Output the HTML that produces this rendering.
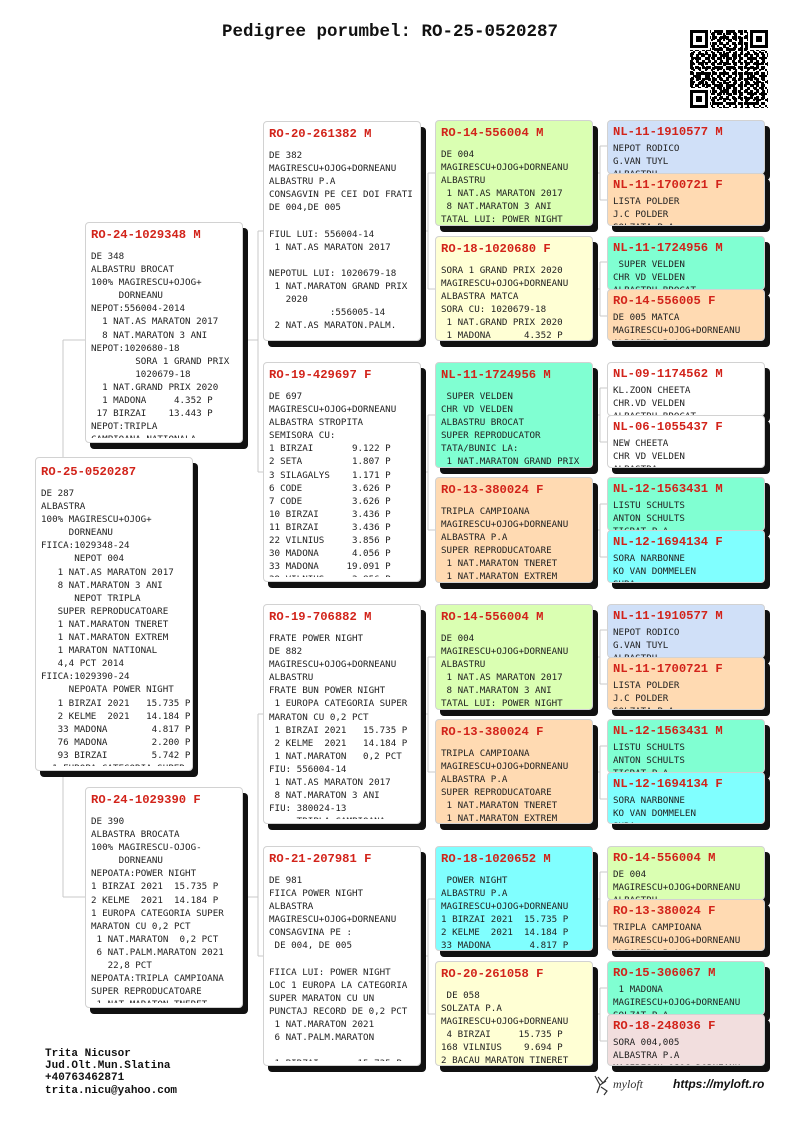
<!DOCTYPE html>
<html><head><meta charset="utf-8">
<style>
*{box-sizing:border-box}
body{margin:0;width:800px;height:1131px;background:#fff;position:relative;overflow:hidden;font-family:"Liberation Mono",monospace;color:#222}
.t{position:absolute;left:222px;top:20px;font:bold 17.5px/24px "Liberation Mono",monospace;color:#111;white-space:pre}
.b{position:absolute;width:158px;border:1px solid #d2d2d2;border-radius:4px;box-shadow:5px 6px 0 #111;background:#fff}
.c{position:absolute;left:0;top:0;right:0;bottom:4px;overflow:hidden;padding-left:5px}
.h{font:bold 12.2px/16px "Liberation Mono",monospace;color:#d2231a;padding-top:4px;height:20px;white-space:pre}
pre{margin:7px 0 0 0;font:9.2px/13.1px "DejaVu Sans Mono","Liberation Mono",monospace;color:#222}
.s .h{padding-top:3px;height:19px}
.s pre{margin-top:2px}
.s .c{bottom:0}
.m .c{bottom:1px}
.g{background:#daffb2}.y{background:#ffffd4}.p{background:#ffdab2}.a{background:#80ffd2}.cy{background:#80ffff}.bl{background:#d0e0f8}.pk{background:#f2dede}
.f{position:absolute;left:45px;top:1048px;font:bold 11px/12.2px "Liberation Mono",monospace;color:#111;white-space:pre}
</style></head><body>
<div class="t">Pedigree porumbel: RO-25-0520287</div>

<svg style="position:absolute;left:690px;top:30px" width="78" height="78" viewBox="0 0 78 78">
<defs>
<pattern id="p1" width="6" height="6" patternUnits="userSpaceOnUse"><rect x="0" y="0" width="3" height="3" fill="#000"/><rect x="3" y="3" width="2" height="2" fill="#000"/></pattern>
<pattern id="p2" width="7" height="5" patternUnits="userSpaceOnUse"><rect x="1" y="2" width="3" height="3" fill="#000"/></pattern>
<pattern id="p3" width="11" height="9" patternUnits="userSpaceOnUse"><rect x="5" y="0" width="4" height="3" fill="#000"/><rect x="0" y="5" width="3" height="4" fill="#000"/></pattern>
</defs>
<rect width="78" height="78" fill="#fff"/>
<rect width="78" height="78" fill="url(#p1)"/>
<rect width="78" height="78" fill="url(#p2)"/>
<rect width="78" height="78" fill="url(#p3)"/>
<g>
<rect x="0" y="0" width="20" height="20" fill="#fff"/><rect x="0" y="0" width="18" height="18" fill="#000"/><rect x="3" y="3" width="12" height="12" fill="#fff"/><rect x="6" y="6" width="6" height="6" fill="#000"/>
<rect x="58" y="0" width="20" height="20" fill="#fff"/><rect x="60" y="0" width="18" height="18" fill="#000"/><rect x="63" y="3" width="12" height="12" fill="#fff"/><rect x="66" y="6" width="6" height="6" fill="#000"/>
<rect x="0" y="58" width="20" height="20" fill="#fff"/><rect x="0" y="60" width="18" height="18" fill="#000"/><rect x="3" y="63" width="12" height="12" fill="#fff"/><rect x="6" y="66" width="6" height="6" fill="#000"/>
</g>
</svg>

<svg style="position:absolute;left:0;top:0" width="800" height="1131">
<g stroke="#c8c8c8" stroke-width="1" fill="none">
<path d="M63 340V897M63 340H85M63 897H85"/>
<path d="M243 340H258M258 231V472M258 231H263M258 472H263"/>
<path d="M243 897H258M258 714V956M258 714H263M258 956H263"/>
<path d="M420 231H428M428 173V289M428 173H435M428 289H435"/>
<path d="M420 472H428M428 415V530M428 415H435M428 530H435"/>
<path d="M420 714H428M428 657V772M428 657H435M428 772H435"/>
<path d="M420 956H428M428 899V1014M428 899H435M428 1014H435"/>
<path d="M593 173H600M600 146V200M600 146H607M600 200H607"/>
<path d="M593 289H600M600 262V316M600 262H607M600 316H607"/>
<path d="M593 415H600M600 388V442M600 388H607M600 442H607"/>
<path d="M593 530H600M600 504V557M600 504H607M600 557H607"/>
<path d="M593 657H600M600 630V684M600 630H607M600 684H607"/>
<path d="M593 772H600M600 746V799M600 746H607M600 799H607"/>
<path d="M593 899H600M600 872V926M600 872H607M600 926H607"/>
<path d="M593 1014H600M600 988V1041M600 988H607M600 1041H607"/>
</g></svg>

<!-- subject -->
<div class="b" style="left:35px;top:457px;height:314px"><div class="c"><div class="h" style="padding-top:6px;height:22px">RO-25-0520287</div><pre>DE 287
ALBASTRA
100% MAGIRESCU+OJOG+
     DORNEANU
FIICA:1029348-24
      NEPOT 004
   1 NAT.AS MARATON 2017
   8 NAT.MARATON 3 ANI
      NEPOT TRIPLA
   SUPER REPRODUCATOARE
   1 NAT.MARATON TNERET
   1 NAT.MARATON EXTREM
   1 MARATON NATIONAL
   4,4 PCT 2014
FIICA:1029390-24
     NEPOATA POWER NIGHT
   1 BIRZAI 2021   15.735 P
   2 KELME  2021   14.184 P
   33 MADONA        4.817 P
   76 MADONA        2.200 P
   93 BIRZAI        5.742 P
  1 EUROPA CATEGORIA SUPER</pre></div></div>

<!-- parents -->
<div class="b" style="left:85px;top:222px;height:221px"><div class="c"><div class="h">RO-24-1029348 M</div><pre>DE 348
ALBASTRU BROCAT
100% MAGIRESCU+OJOG+
     DORNEANU
NEPOT:556004-2014
  1 NAT.AS MARATON 2017
  8 NAT.MARATON 3 ANI
NEPOT:1020680-18
        SORA 1 GRAND PRIX
        1020679-18
  1 NAT.GRAND PRIX 2020
  1 MADONA     4.352 P
 17 BIRZAI    13.443 P
NEPOT:TRIPLA
CAMPIOANA NATIONALA</pre></div></div>

<div class="b" style="left:85px;top:787px;height:221px"><div class="c"><div class="h">RO-24-1029390 F</div><pre>DE 390
ALBASTRA BROCATA
100% MAGIRESCU-OJOG-
     DORNEANU
NEPOATA:POWER NIGHT
1 BIRZAI 2021  15.735 P
2 KELME  2021  14.184 P
1 EUROPA CATEGORIA SUPER
MARATON CU 0,2 PCT
 1 NAT.MARATON  0,2 PCT
 6 NAT.PALM.MARATON 2021
   22,8 PCT
NEPOATA:TRIPLA CAMPIOANA
SUPER REPRODUCATOARE
 1 NAT.MARATON TNERET</pre></div></div>

<!-- grandparents -->
<div class="b" style="left:263px;top:121px;height:220px"><div class="c"><div class="h">RO-20-261382 M</div><pre>DE 382
MAGIRESCU+OJOG+DORNEANU
ALBASTRU P.A
CONSAGVIN PE CEI DOI FRATI
DE 004,DE 005

FIUL LUI: 556004-14
 1 NAT.AS MARATON 2017

NEPOTUL LUI: 1020679-18
 1 NAT.MARATON GRAND PRIX
   2020
           :556005-14
 2 NAT.AS MARATON.PALM.</pre></div></div>

<div class="b" style="left:263px;top:362px;height:220px"><div class="c"><div class="h">RO-19-429697 F</div><pre>DE 697
MAGIRESCU+OJOG+DORNEANU
ALBASTRA STROPITA
SEMISORA CU:
1 BIRZAI       9.122 P
2 SETA         1.807 P
3 SILAGALYS    1.171 P
6 CODE         3.626 P
7 CODE         3.626 P
10 BIRZAI      3.436 P
11 BIRZAI      3.436 P
22 VILNIUS     3.856 P
30 MADONA      4.056 P
33 MADONA     19.091 P
39 VILNIUS     3.856 P</pre></div></div>

<div class="b" style="left:263px;top:604px;height:220px"><div class="c"><div class="h">RO-19-706882 M</div><pre>FRATE POWER NIGHT
DE 882
MAGIRESCU+OJOG+DORNEANU
ALBASTRU
FRATE BUN POWER NIGHT
 1 EUROPA CATEGORIA SUPER
MARATON CU 0,2 PCT
 1 BIRZAI 2021   15.735 P
 2 KELME  2021   14.184 P
 1 NAT.MARATON   0,2 PCT
FIU: 556004-14
 1 NAT.AS MARATON 2017
 8 NAT.MARATON 3 ANI
FIU: 380024-13
     TRIPLA CAMPIOANA</pre></div></div>

<div class="b" style="left:263px;top:846px;height:220px"><div class="c"><div class="h">RO-21-207981 F</div><pre>DE 981
FIICA POWER NIGHT
ALBASTRA
MAGIRESCU+OJOG+DORNEANU
CONSAGVINA PE :
 DE 004, DE 005

FIICA LUI: POWER NIGHT
LOC 1 EUROPA LA CATEGORIA
SUPER MARATON CU UN
PUNCTAJ RECORD DE 0,2 PCT
 1 NAT.MARATON 2021
 6 NAT.PALM.MARATON

 1 BIRZAI       15.735 P</pre></div></div>

<!-- col4 -->
<div class="b m g" style="left:435px;top:120px;height:106px"><div class="c"><div class="h">RO-14-556004 M</div><pre>DE 004
MAGIRESCU+OJOG+DORNEANU
ALBASTRU
 1 NAT.AS MARATON 2017
 8 NAT.MARATON 3 ANI
TATAL LUI: POWER NIGHT</pre></div></div>
<div class="b m y" style="left:435px;top:236px;height:105px"><div class="c"><div class="h">RO-18-1020680 F</div><pre>SORA 1 GRAND PRIX 2020
MAGIRESCU+OJOG+DORNEANU
ALBASTRA MATCA
SORA CU: 1020679-18
 1 NAT.GRAND PRIX 2020
 1 MADONA      4.352 P</pre></div></div>

<div class="b m a" style="left:435px;top:362px;height:106px"><div class="c"><div class="h">NL-11-1724956 M</div><pre> SUPER VELDEN
CHR VD VELDEN
ALBASTRU BROCAT
SUPER REPRODUCATOR
TATA/BUNIC LA:
 1 NAT.MARATON GRAND PRIX</pre></div></div>
<div class="b m p" style="left:435px;top:477px;height:106px"><div class="c"><div class="h">RO-13-380024 F</div><pre>TRIPLA CAMPIOANA
MAGIRESCU+OJOG+DORNEANU
ALBASTRA P.A
SUPER REPRODUCATOARE
 1 NAT.MARATON TNERET
 1 NAT.MARATON EXTREM</pre></div></div>

<div class="b m g" style="left:435px;top:604px;height:106px"><div class="c"><div class="h">RO-14-556004 M</div><pre>DE 004
MAGIRESCU+OJOG+DORNEANU
ALBASTRU
 1 NAT.AS MARATON 2017
 8 NAT.MARATON 3 ANI
TATAL LUI: POWER NIGHT</pre></div></div>
<div class="b m p" style="left:435px;top:719px;height:105px"><div class="c"><div class="h">RO-13-380024 F</div><pre>TRIPLA CAMPIOANA
MAGIRESCU+OJOG+DORNEANU
ALBASTRA P.A
SUPER REPRODUCATOARE
 1 NAT.MARATON TNERET
 1 NAT.MARATON EXTREM</pre></div></div>

<div class="b m cy" style="left:435px;top:846px;height:105px"><div class="c"><div class="h">RO-18-1020652 M</div><pre> POWER NIGHT
ALBASTRU P.A
MAGIRESCU+OJOG+DORNEANU
1 BIRZAI 2021  15.735 P
2 KELME  2021  14.184 P
33 MADONA       4.817 P</pre></div></div>
<div class="b m y" style="left:435px;top:961px;height:105px"><div class="c"><div class="h">RO-20-261058 F</div><pre> DE 058
SOLZATA P.A
MAGIRESCU+OJOG+DORNEANU
 4 BIRZAI     15.735 P
168 VILNIUS    9.694 P
2 BACAU MARATON TINERET</pre></div></div>

<!-- col5 -->
<div class="b s bl" style="left:607px;top:120px;height:54px"><div class="c"><div class="h">NL-11-1910577 M</div><pre>NEPOT RODICO
G.VAN TUYL
ALBASTRU</pre></div></div>
<div class="b s p" style="left:607px;top:173px;height:53px"><div class="c"><div class="h">NL-11-1700721 F</div><pre>LISTA POLDER
J.C POLDER
SOLZATA P.A</pre></div></div>
<div class="b s a" style="left:607px;top:236px;height:54px"><div class="c"><div class="h">NL-11-1724956 M</div><pre> SUPER VELDEN
CHR VD VELDEN
ALBASTRU BROCAT</pre></div></div>
<div class="b s p" style="left:607px;top:289px;height:52px"><div class="c"><div class="h">RO-14-556005 F</div><pre>DE 005 MATCA
MAGIRESCU+OJOG+DORNEANU
ALBASTRA P.A</pre></div></div>

<div class="b s" style="left:607px;top:362px;height:54px"><div class="c"><div class="h">NL-09-1174562 M</div><pre>KL.ZOON CHEETA
CHR.VD VELDEN
ALBASTRU BROCAT</pre></div></div>
<div class="b s" style="left:607px;top:415px;height:53px"><div class="c"><div class="h">NL-06-1055437 F</div><pre>NEW CHEETA
CHR VD VELDEN
ALBASTRA</pre></div></div>
<div class="b s a" style="left:607px;top:477px;height:54px"><div class="c"><div class="h">NL-12-1563431 M</div><pre>LISTU SCHULTS
ANTON SCHULTS
TIGRAT P.A</pre></div></div>
<div class="b s cy" style="left:607px;top:530px;height:53px"><div class="c"><div class="h">NL-12-1694134 F</div><pre>SORA NARBONNE
KO VAN DOMMELEN
SURA</pre></div></div>

<div class="b s bl" style="left:607px;top:604px;height:54px"><div class="c"><div class="h">NL-11-1910577 M</div><pre>NEPOT RODICO
G.VAN TUYL
ALBASTRU</pre></div></div>
<div class="b s p" style="left:607px;top:657px;height:53px"><div class="c"><div class="h">NL-11-1700721 F</div><pre>LISTA POLDER
J.C POLDER
SOLZATA P.A</pre></div></div>
<div class="b s a" style="left:607px;top:719px;height:54px"><div class="c"><div class="h">NL-12-1563431 M</div><pre>LISTU SCHULTS
ANTON SCHULTS
TIGRAT P.A</pre></div></div>
<div class="b s cy" style="left:607px;top:772px;height:52px"><div class="c"><div class="h">NL-12-1694134 F</div><pre>SORA NARBONNE
KO VAN DOMMELEN
SURA</pre></div></div>

<div class="b s g" style="left:607px;top:846px;height:54px"><div class="c"><div class="h">RO-14-556004 M</div><pre>DE 004
MAGIRESCU+OJOG+DORNEANU
ALBASTRU</pre></div></div>
<div class="b s p" style="left:607px;top:899px;height:52px"><div class="c"><div class="h">RO-13-380024 F</div><pre>TRIPLA CAMPIOANA
MAGIRESCU+OJOG+DORNEANU
ALBASTRA P.A</pre></div></div>
<div class="b s a" style="left:607px;top:961px;height:54px"><div class="c"><div class="h">RO-15-306067 M</div><pre> 1 MADONA
MAGIRESCU+OJOG+DORNEANU
SOLZAT P.A</pre></div></div>
<div class="b s pk" style="left:607px;top:1014px;height:52px"><div class="c"><div class="h">RO-18-248036 F</div><pre>SORA 004,005
ALBASTRA P.A
MAGIRESCU+OJOG+DORNEANU</pre></div></div>

<div class="f">Trita Nicusor
Jud.Olt.Mun.Slatina
+40763462871
trita.nicu@yahoo.com</div>

<svg style="position:absolute;left:592px;top:1073px" width="70" height="24" viewBox="0 0 70 24">
<path d="M3 3 L8 12 L5 20 M8 12 L14 8 M6 4 L11 10 L16 4 M9 14 L15 18 L12 22" stroke="#333" stroke-width="1.2" fill="none"/>
<text x="21" y="15" font-family="Liberation Serif,serif" font-style="italic" font-size="12" fill="#333">myloft</text>
</svg>
<div style="position:absolute;left:673px;top:1076px;font:bold italic 12px/16px 'Liberation Sans',sans-serif;color:#111">https://myloft.ro</div>
</body></html>
